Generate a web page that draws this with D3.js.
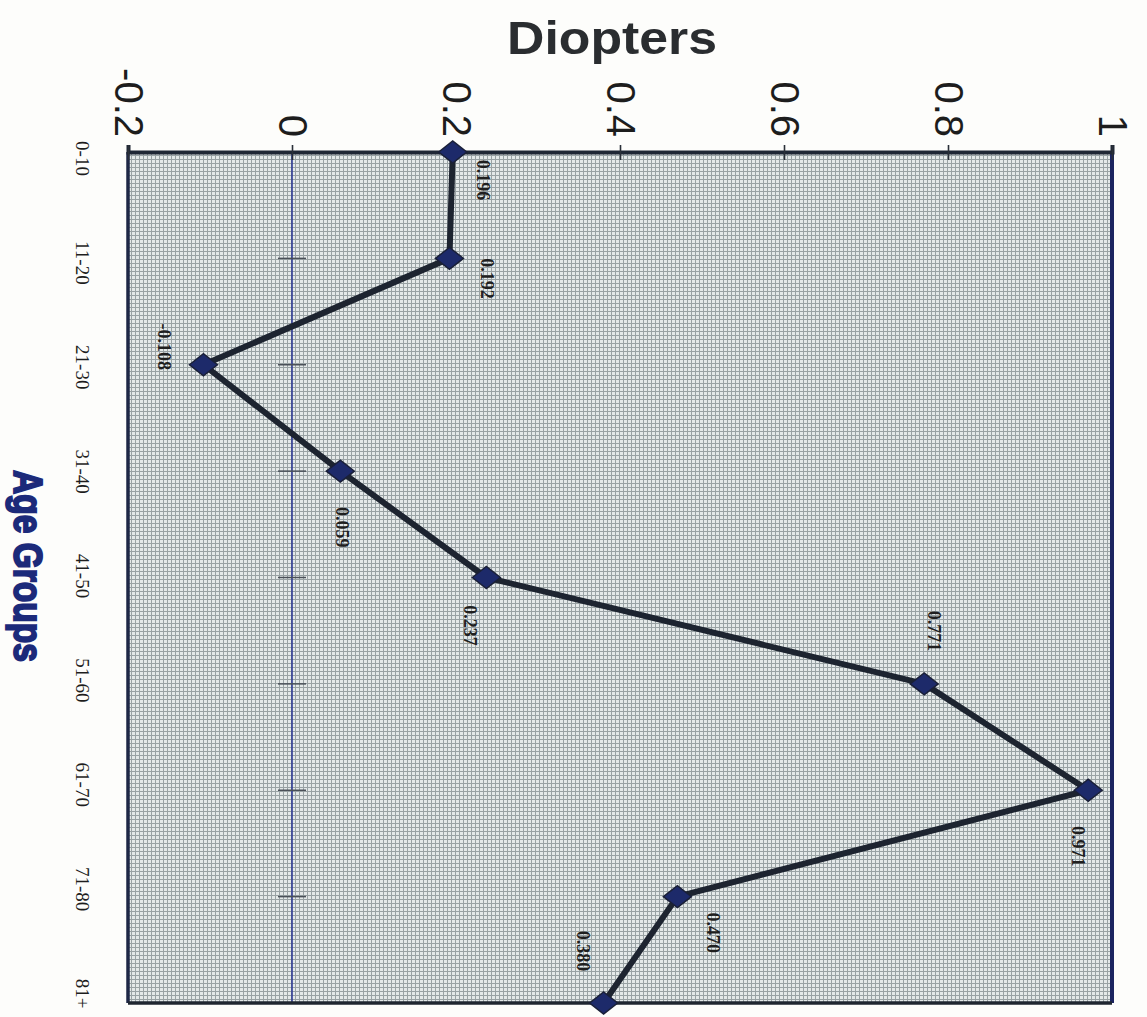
<!DOCTYPE html>
<html>
<head>
<meta charset="utf-8">
<script src="https://cdn.jsdelivr.net/npm/d3@7"></script>
<style>
  body { margin: 0; background: #fdfdfb; }
  svg { display: block; }
</style>
</head>
<body>
<svg id="chart" width="1147" height="1017"></svg>
<script>
// chart values (the original is an Excel line chart turned 90 degrees clockwise)
const ageGroups = ["0-10", "11-20", "21-30", "31-40", "41-50", "51-60", "61-70", "71-80", "81+"];
const diopters = [0.196, 0.192, -0.108, 0.059, 0.237, 0.771, 0.971, 0.470, 0.380];
const pointLabels = ["0.196", "0.192", "-0.108", "0.059", "0.237", "0.771", "0.971", "0.470", "0.380"];
const valueTicks = [-0.2, 0, 0.2, 0.4, 0.6, 0.8, 1];
const valueTickLabels = ["-0.2", "0", "0.2", "0.4", "0.6", "0.8", "1"];

// hand placed label offsets (screen px) like the manually dragged labels in the scan
const labelOffsets = [[31, 28], [38, 20], [-39, -18], [2, 56], [-16, 48], [10, -53], [-10, 56], [36, 36], [-20, -52]];

const svg = d3.select("#chart");
const plot = { left: 128, right: 1112, top: 152, bottom: 1003 };

const x = d3.scaleLinear().domain([-0.2, 1]).range([plot.left, plot.right]);
const y = d3.scalePoint().domain(ageGroups).range([plot.top, plot.bottom]);
// the scanned category labels sit a little inside the plot ends
const labelY = d3.scaleLinear().domain([0, ageGroups.length - 1]).range([plot.top + 6, plot.bottom - 10]);

// fine grid paper fill
const defs = svg.append("defs");
const pat = defs.append("pattern")
    .attr("id", "paper")
    .attr("width", 4).attr("height", 4)
    .attr("patternUnits", "userSpaceOnUse");
pat.append("rect").attr("width", 4).attr("height", 4).attr("fill", "#e4e9e9");
pat.append("rect").attr("x", 3).attr("width", 1).attr("height", 4).attr("fill", "#99a2a4");
pat.append("rect").attr("y", 3).attr("width", 4).attr("height", 1).attr("fill", "#99a2a4");

svg.append("rect")
    .attr("x", plot.left).attr("y", plot.top)
    .attr("width", plot.right - plot.left)
    .attr("height", plot.bottom - plot.top)
    .attr("fill", "url(#paper)");

// zero line with little category ticks
svg.append("line")
    .attr("x1", x(0)).attr("x2", x(0))
    .attr("y1", plot.top).attr("y2", plot.bottom)
    .attr("stroke", "#2f3c95").attr("stroke-width", 1.6);

svg.selectAll(".zeroTick")
    .data(ageGroups.slice(1, -1))
    .enter().append("line")
    .attr("class", "zeroTick")
    .attr("x1", x(0) - 14).attr("x2", x(0) + 14)
    .attr("y1", d => y(d)).attr("y2", d => y(d))
    .attr("stroke", "#4a5058").attr("stroke-width", 1.5);

// frame
svg.append("line")
    .attr("x1", plot.left).attr("x2", plot.left)
    .attr("y1", plot.top).attr("y2", plot.bottom)
    .attr("stroke", "#1e2746").attr("stroke-width", 3.5);
svg.append("line")
    .attr("x1", plot.right).attr("x2", plot.right)
    .attr("y1", plot.top).attr("y2", plot.bottom)
    .attr("stroke", "#1c2560").attr("stroke-width", 4);
svg.append("line")
    .attr("x1", plot.left).attr("x2", plot.right)
    .attr("y1", plot.bottom).attr("y2", plot.bottom)
    .attr("stroke", "#1f2630").attr("stroke-width", 3.5);

// value axis along the top
const xAxis = svg.append("g")
    .attr("class", "axis axis--x")
    .attr("transform", `translate(0,${plot.top})`)
    .call(d3.axisTop(x).tickValues(valueTicks).tickSize(7).tickFormat((d, i) => valueTickLabels[i]));

xAxis.select(".domain").attr("stroke", "#1f2735").attr("stroke-width", 4);
xAxis.selectAll(".tick line")
    .attr("y1", 8).attr("y2", -7)
    .attr("stroke", "#2a2f38").attr("stroke-width", 1.6);
xAxis.selectAll(".tick text")
    .attr("x", 0).attr("y", 0)
    .attr("dy", "0.35em")
    .attr("transform", "translate(0,-15) rotate(90)")
    .style("text-anchor", "end")
    .style("font-family", "'Liberation Sans', Arial, sans-serif")
    .style("font-size", "40px")
    .attr("fill", "#1d1d1d");

// category axis on the left
const yAxis = svg.append("g")
    .attr("class", "axis axis--y")
    .attr("transform", `translate(${plot.left},0)`)
    .call(d3.axisLeft(y).tickSize(0));

yAxis.select(".domain").remove();
yAxis.selectAll(".tick text")
    .attr("x", 0).attr("y", 0)
    .attr("dy", "0.35em")
    .attr("transform", (d, i) => `translate(-45,${labelY(i) - y(d)}) rotate(90)`)
    .style("text-anchor", "middle")
    .style("font-family", "'Liberation Serif', 'Times New Roman', serif")
    .style("font-size", "19px")
    .attr("fill", "#1d1d1d");

// series line
const line = d3.line()
    .x((d, i) => x(d))
    .y((d, i) => y(ageGroups[i]));

svg.append("path")
    .datum(diopters)
    .attr("d", line)
    .attr("fill", "none")
    .attr("stroke", "#1d2430")
    .attr("stroke-width", 6)
    .attr("stroke-linejoin", "round");

// diamond markers
svg.selectAll(".marker")
    .data(diopters)
    .enter().append("path")
    .attr("class", "marker")
    .attr("d", "M-14,0L0,-11L14,0L0,11Z")
    .attr("transform", (d, i) => `translate(${x(d)},${y(ageGroups[i])})`)
    .attr("fill", "#1d2a6a")
    .attr("stroke", "#1a2038")
    .attr("stroke-width", 1.5);

// data labels
svg.selectAll(".dataLabel")
    .data(diopters)
    .enter().append("text")
    .attr("class", "dataLabel")
    .attr("dy", "0.35em")
    .attr("transform", (d, i) => `translate(${x(d) + labelOffsets[i][0]},${y(ageGroups[i]) + labelOffsets[i][1]}) rotate(90)`)
    .style("text-anchor", "middle")
    .style("font-family", "'Liberation Serif', 'Times New Roman', serif")
    .style("font-size", "18px")
    .style("font-weight", "bold")
    .attr("fill", "#1f1f1f")
    .text((d, i) => pointLabels[i]);

// titles
svg.append("text")
    .attr("x", 612).attr("y", 54)
    .style("text-anchor", "middle")
    .style("font-family", "'Liberation Sans', Arial, sans-serif")
    .style("font-size", "46px")
    .style("font-weight", "bold")
    .attr("textLength", 210)
    .attr("lengthAdjust", "spacingAndGlyphs")
    .attr("fill", "#2a2d30")
    .text("Diopters");

svg.append("text")
    .attr("dy", "0.35em")
    .attr("transform", "translate(28,566) rotate(90)")
    .style("text-anchor", "middle")
    .style("font-family", "'Liberation Sans Narrow', 'Liberation Sans', Arial, sans-serif")
    .style("font-size", "40px")
    .style("font-weight", "bold")
    .attr("textLength", 192)
    .attr("lengthAdjust", "spacingAndGlyphs")
    .attr("fill", "#1c2a7a")
    .attr("stroke", "#1c2a7a")
    .attr("stroke-width", 2)
    .text("Age Groups");
</script>
</body>
</html>
